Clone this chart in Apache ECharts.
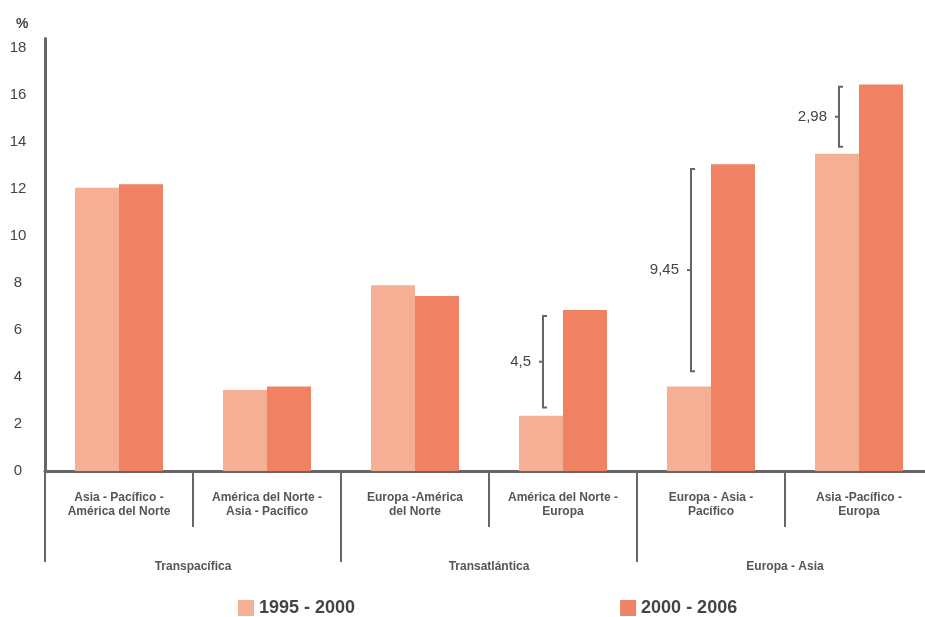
<!DOCTYPE html>
<html>
<head>
<meta charset="utf-8">
<script src="https://cdn.jsdelivr.net/npm/echarts@6/dist/echarts.min.js"></script>
<style>
  html, body { margin: 0; padding: 0; background: #fff; overflow: hidden; }
  #chart { width: 925px; height: 617px; }
</style>
</head>
<body>
<div id="chart"></div>
<script>
// datos
var categories = [
  'Asia - Pacífico -\nAmérica del Norte',
  'América del Norte -\nAsia - Pacífico',
  'Europa -América\ndel Norte',
  'América del Norte -\nEuropa',
  'Europa - Asia -\nPacífico',
  'Asia -Pacífico -\nEuropa'
];
var groups = ['Transpacífica', 'Transatlántica', 'Europa - Asia'];
var serie1995 = [12.05, 3.45, 7.9, 2.35, 3.6, 13.5];
var serie2000 = [12.2, 3.6, 7.45, 6.85, 13.05, 16.45];
var yTicks = [0, 2, 4, 6, 8, 10, 12, 14, 16, 18];
// llaves de diferencia
var bracketCats = [3, 4, 5];
var bracketLo = [2.7, 4.25, 13.8];
var bracketHi = [6.6, 12.85, 16.35];
var bracketLabels = ['4,5', '9,45', '2,98'];

var axisColor = '#666';
var textColor = '#444';
var font = 'Liberation Sans';

var myChart = echarts.init(document.getElementById('chart'));

var bracketData = bracketCats.map(function (c, i) {
  return [c, bracketLo[i], bracketHi[i], bracketLabels[i]];
});

var option = {
  animation: false,
  title: {
    text: '%',
    left: 11,
    top: 12,
    textStyle: { fontSize: 14, fontWeight: 'bold', color: textColor, fontFamily: font }
  },
  legend: {
    data: ['1995 - 2000', '2000 - 2006'],
    left: 233,
    top: 594,
    icon: 'rect',
    itemWidth: 16,
    itemHeight: 16,
    itemGap: 265,
    textStyle: { fontSize: 18, fontWeight: 'bold', color: textColor, fontFamily: font }
  },
  grid: {
    left: 45,
    width: 888,
    top: 38.6,
    bottom: 146,
    outerBoundsMode: 'none'
  },
  xAxis: [{
    type: 'category',
    data: categories,
    axisLine: { lineStyle: { color: axisColor, width: 3 } },
    axisTick: { show: true, interval: 0, length: 56, lineStyle: { color: axisColor, width: 2 } },
    axisLabel: {
      interval: 0,
      margin: 20,
      fontSize: 12,
      lineHeight: 14,
      fontWeight: 'bold',
      color: '#555',
      fontFamily: font
    }
  }, {
    type: 'category',
    data: groups,
    position: 'bottom',
    axisLine: { show: false },
    axisTick: { show: true, interval: 0, length: 91, lineStyle: { color: axisColor, width: 2 } },
    axisLabel: {
      interval: 0,
      margin: 90,
      fontSize: 12,
      fontWeight: 'bold',
      color: '#555',
      fontFamily: font
    }
  }],
  yAxis: {
    type: 'value',
    min: 0,
    max: 18.4,
    interval: 2,
    splitLine: { show: false },
    axisLine: { show: true, lineStyle: { color: axisColor, width: 3 } },
    axisTick: { show: false },
    axisLabel: {
      margin: 27,
      align: 'center',
      fontSize: 15,
      color: textColor,
      fontFamily: font,
      formatter: function (v) {
        return yTicks.indexOf(v) >= 0 ? String(v) : '';
      }
    }
  },
  series: [{
    name: '1995 - 2000',
    type: 'bar',
    data: serie1995,
    barWidth: 44,
    barGap: '0%',
    itemStyle: { color: '#F5AF94' }
  }, {
    name: '2000 - 2006',
    type: 'bar',
    data: serie2000,
    barWidth: 44,
    barGap: '0%',
    itemStyle: { color: '#F08263' }
  }, {
    type: 'custom',
    data: bracketData,
    z: 5,
    clip: false,
    renderItem: function (params, api) {
      var top = api.coord([api.value(0), api.value(2)]);
      var bot = api.coord([api.value(0), api.value(1)]);
      var x = top[0] - 20;
      var y1 = top[1], y2 = bot[1];
      var ym = (y1 + y2) / 2;
      var style = { stroke: axisColor, lineWidth: 2, fill: null };
      return {
        type: 'group',
        children: [
          { type: 'polyline', shape: { points: [[x + 4, y1], [x, y1], [x, y2], [x + 4, y2]] }, style: style },
          { type: 'line', shape: { x1: x - 4, y1: ym, x2: x, y2: ym }, style: style },
          {
            type: 'text',
            style: {
              text: bracketLabels[params.dataIndex],
              x: x - 12,
              y: ym,
              align: 'right',
              verticalAlign: 'middle',
              fontSize: 15,
              fill: textColor,
              fontFamily: font
            }
          }
        ]
      };
    }
  }]
};

myChart.setOption(option);
window.addEventListener('resize', myChart.resize);
</script>
</body>
</html>
